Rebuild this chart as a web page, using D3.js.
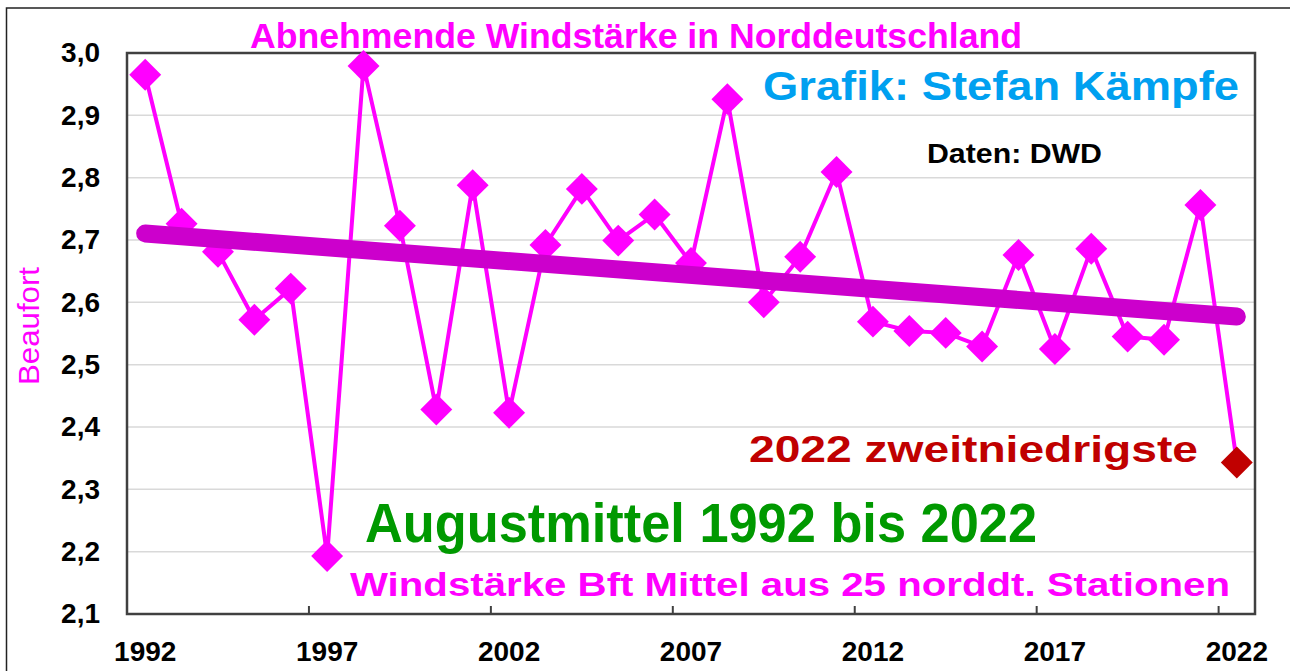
<!DOCTYPE html>
<html>
<head>
<meta charset="utf-8">
<script src="https://cdn.jsdelivr.net/npm/d3@7"></script>
<style>
  html, body { margin: 0; padding: 0; background: #fff; }
  svg { display: block; }
  text { font-family: "Liberation Sans", Arial, sans-serif; }
</style>
</head>
<body>
<svg id="chart" width="1290" height="671"></svg>
<script>
// ---- Data ----
const years = d3.range(1992, 2023);
const windValues = [
  2.965, 2.726, 2.681, 2.572, 2.622, 2.193, 2.979, 2.723, 2.428, 2.788,
  2.423, 2.692, 2.782, 2.699, 2.741, 2.663, 2.926, 2.600, 2.673, 2.809,
  2.569, 2.554, 2.551, 2.529, 2.676, 2.525, 2.686, 2.545, 2.540, 2.756,
  2.343
];
const xTickLabels = [1992, 1997, 2002, 2007, 2012, 2017, 2022];
const yTickValues = [2.1, 2.2, 2.3, 2.4, 2.5, 2.6, 2.7, 2.8, 2.9, 3.0];
const yDomain = [2.1, 3.0];

const titleText = "Abnehmende Windstärke in Norddeutschland";
const authorText = "Grafik: Stefan Kämpfe";
const sourceText = "Daten: DWD";
const noteText = "2022 zweitniedrigste";
const periodText = "Augustmittel 1992 bis 2022";
const subText = "Windstärke Bft Mittel aus 25 norddt. Stationen";
const yAxisTitle = "Beaufort";

// ---- Layout ----
const plot = { left: 127, right: 1255, top: 53, bottom: 614 };
const svg = d3.select("#chart");

svg.append("rect").attr("x", 0).attr("y", 0).attr("width", 1290).attr("height", 671).attr("fill", "#fff");
// outer frame
svg.append("rect").attr("x", 6.5).attr("y", 8).attr("width", 1400).attr("height", 800)
  .attr("fill", "none").attr("stroke", "#222").attr("stroke-width", 1.5);

const x = d3.scaleBand().domain(years).range([plot.left, plot.right]).padding(0);
const y = d3.scaleLinear().domain(yDomain).range([plot.bottom, plot.top]);
const cx = d => x(d) + x.bandwidth() / 2;

// gridlines
svg.append("g").selectAll("line")
  .data(yTickValues.filter(v => v > yDomain[0] && v < yDomain[1]))
  .join("line")
  .attr("x1", plot.left).attr("x2", plot.right)
  .attr("y1", d => y(d)).attr("y2", d => y(d))
  .attr("stroke", "#d9d9d9").attr("stroke-width", 1.5);

// Y axis labels
const yAxis = svg.append("g")
  .attr("transform", `translate(${plot.left},0)`)
  .call(d3.axisLeft(y).tickValues(yTickValues).tickSize(0).tickPadding(27)
    .tickFormat(d => d.toFixed(1).replace(".", ",")));
yAxis.select(".domain").remove();
yAxis.selectAll("text").attr("font-size", 28).attr("font-weight", "bold")
  .attr("fill", "#000").attr("font-family", '"Liberation Sans", Arial, sans-serif');

// X axis labels
const xAxis = svg.append("g")
  .attr("transform", `translate(0,${plot.bottom})`)
  .call(d3.axisBottom(x).tickValues(xTickLabels).tickSize(0).tickPadding(27));
xAxis.select(".domain").remove();
xAxis.selectAll("text").attr("font-size", 28).attr("font-weight", "bold")
  .attr("fill", "#000").attr("font-family", '"Liberation Sans", Arial, sans-serif');

// tick marks at category boundaries
svg.append("g").selectAll("line")
  .data(xTickLabels.filter(d => d !== years[0]))
  .join("line")
  .attr("x1", d => x(d)).attr("x2", d => x(d))
  .attr("y1", plot.bottom).attr("y2", plot.bottom - 8)
  .attr("stroke", "#404040").attr("stroke-width", 2);

// plot border
svg.append("rect")
  .attr("x", plot.left).attr("y", plot.top)
  .attr("width", plot.right - plot.left).attr("height", plot.bottom - plot.top)
  .attr("fill", "none").attr("stroke", "#404040").attr("stroke-width", 2.5);

// data line
const series = years.map((yr, i) => ({ year: yr, value: windValues[i] }));
svg.append("path").datum(series)
  .attr("fill", "none").attr("stroke", "#ff00ff").attr("stroke-width", 4)
  .attr("stroke-linejoin", "round")
  .attr("d", d3.line().x(d => cx(d.year)).y(d => y(d.value)));

// markers
const diamond = d3.symbol().type(d3.symbolSquare).size(510);
svg.append("g").selectAll("path")
  .data(series)
  .join("path")
  .attr("d", diamond)
  .attr("transform", d => `translate(${cx(d.year)},${y(d.value)}) rotate(45)`)
  .attr("fill", (d, i) => i === series.length - 1 ? "#c00000" : "#ff00ff");

// linear trend (least squares)
const n = series.length;
const mx = d3.mean(years), my = d3.mean(windValues);
const slope = d3.sum(series, d => (d.year - mx) * (d.value - my)) / d3.sum(series, d => (d.year - mx) ** 2);
const icpt = my - slope * mx;
const trend = [years[0], years[n - 1]].map(yr => ({ year: yr, value: icpt + slope * yr }));
svg.append("path").datum(trend)
  .attr("fill", "none").attr("stroke", "#cc00cc").attr("stroke-width", 18)
  .attr("stroke-linecap", "round")
  .attr("d", d3.line().x(d => cx(d.year)).y(d => y(d.value)));

// annotations
function label(txt, x0, base, size, len, color, weight = "bold") {
  svg.append("text")
    .attr("x", x0).attr("y", base)
    .attr("font-size", size).attr("font-weight", weight)
    .attr("fill", color)
    .attr("textLength", len).attr("lengthAdjust", "spacingAndGlyphs")
    .text(txt);
}
label(titleText, 250, 48, 35, 772, "#ff00ff");
label(authorText, 763, 100, 41, 476, "#00a0f0");
label(sourceText, 927, 163, 27, 175, "#000");
label(noteText, 749, 462, 37, 449, "#c00000");
label(periodText, 365, 542, 56, 672, "#009900");
label(subText, 350, 596, 34, 880, "#ff00ff");

// y axis title
svg.append("text")
  .attr("transform", "translate(39,326) rotate(-90)")
  .attr("text-anchor", "middle")
  .attr("font-size", 30).attr("fill", "#ff00ff")
  .attr("textLength", 118).attr("lengthAdjust", "spacingAndGlyphs")
  .text(yAxisTitle);
</script>
</body>
</html>
